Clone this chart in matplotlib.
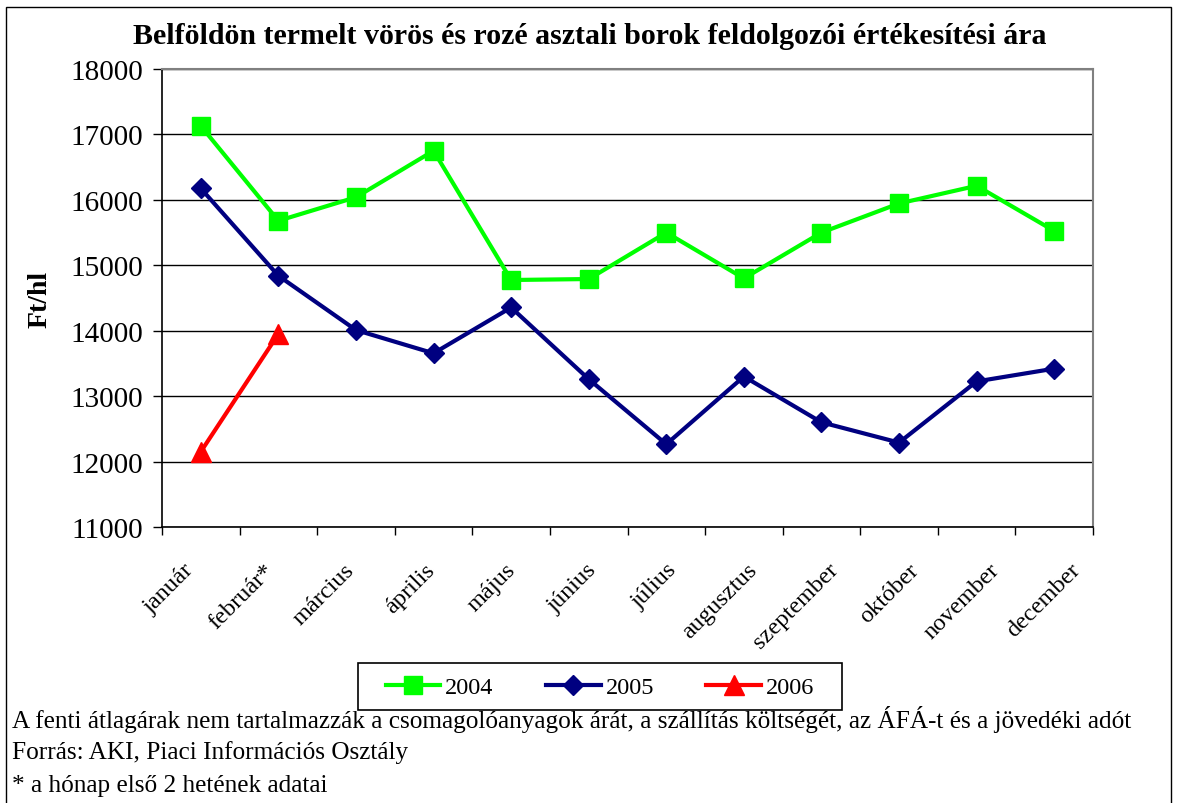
import matplotlib
matplotlib.use('Agg')
import matplotlib.pyplot as plt
import matplotlib.transforms as mtransforms
from matplotlib.patches import Rectangle

plt.rcParams['font.family'] = ['Liberation Serif', 'DejaVu Serif']

months = ['január', 'február*', 'március', 'április', 'május', 'június',
          'július', 'augusztus', 'szeptember', 'október', 'november', 'december']
v2004 = [17130, 15680, 16040, 16750, 14775, 14790, 15500, 14800, 15500, 15945, 16215, 15525]
v2005 = [16175, 14840, 14010, 13655, 14355, 13260, 12265, 13300, 12600, 12290, 13225, 13420]
v2006 = [12150, 13950]
yticks = [11000, 12000, 13000, 14000, 15000, 16000, 17000, 18000]

W, H = 1177, 804
fig = plt.figure(figsize=(W / 100, H / 100), dpi=100)
ax = fig.add_axes([162 / W, 1 - 528 / H, 931 / W, 458 / H])

x = list(range(len(months)))
ax.plot(x, v2004, color='#00FF00', lw=3, marker='s', ms=13, label='2004', zorder=3)
ax.plot(x, v2005, color='#000080', lw=3, marker='D', ms=10, label='2005', zorder=3)
ax.plot(x[:len(v2006)], v2006, color='#FF0000', lw=3, marker='^', ms=14, label='2006', zorder=3)

ax.set_xlim(-0.5, len(months) - 0.5)
ax.set_ylim(11000, 18000)
ax.set_yticks(yticks)
ax.set_yticklabels([str(v) for v in yticks], fontsize=21)
ax.yaxis.grid(True, color='black', lw=1)
ax.set_axisbelow(True)

# month labels, rotated like the Excel original (label spacing a bit wider than the categories)
ax.set_xticks(x)
ax.set_xticklabels(months, fontsize=17.5, rotation=45, ha='right', va='top',
                   rotation_mode='anchor')
ax.tick_params(axis='x', which='major', length=0, pad=23)
for i, lbl in enumerate(ax.get_xticklabels()):
    dx = (-18 + 3 * i) / 100
    lbl.set_transform(lbl.get_transform() + mtransforms.ScaledTranslation(dx, 0, fig.dpi_scale_trans))
ax.set_xticks([i - 0.5 for i in range(len(months) + 1)], minor=True)
ax.tick_params(axis='x', which='minor', length=6, direction='out', width=1)
ax.tick_params(axis='y', length=6.5, width=1, direction='out', pad=7)

for s in ['top', 'right']:
    ax.spines[s].set_color('#808080')
    ax.spines[s].set_linewidth(1.5)
for s in ['left', 'bottom']:
    ax.spines[s].set_color('black')
    ax.spines[s].set_linewidth(1.2)

ax.set_ylabel('Ft/hl', fontsize=20, fontweight='bold', labelpad=13)
fig.text(590 / W, 1 - 37 / H, 'Belföldön termelt vörös és rozé asztali borok feldolgozói értékesítési ára',
         ha='center', va='center', fontsize=21.5, fontweight='bold')

# legend without its own frame, box drawn separately for wider side padding
leg = fig.legend(loc='center', ncol=3, fontsize=17.5, frameon=False,
                 handlelength=2.25, columnspacing=2.15, handletextpad=0.2)
leg.set_bbox_to_anchor((600 / W, 1 - 688 / H), transform=fig.transFigure)
fig.patches.append(Rectangle((358 / W, 1 - 711 / H), 484 / W, 47 / H,
                             transform=fig.transFigure, fill=False, edgecolor='black', lw=1.2))

notes = ['A fenti átlagárak nem tartalmazzák a csomagolóanyagok árát, a szállítás költségét, az ÁFÁ-t és a jövedéki adót',
         'Forrás: AKI, Piaci Információs Osztály',
         '* a hónap első 2 hetének adatai']
for i, t in enumerate(notes):
    fig.text(12 / W, 1 - (720 + 33 * i) / H, t, ha='left', va='center', fontsize=18.2)

fig.patches.append(Rectangle((6 / W, -0.01), 1 - 12 / W, 1 - 8 / H + 0.01,
                             transform=fig.transFigure, fill=False, edgecolor='black', lw=1))

fig.savefig('out.png', dpi=100)
